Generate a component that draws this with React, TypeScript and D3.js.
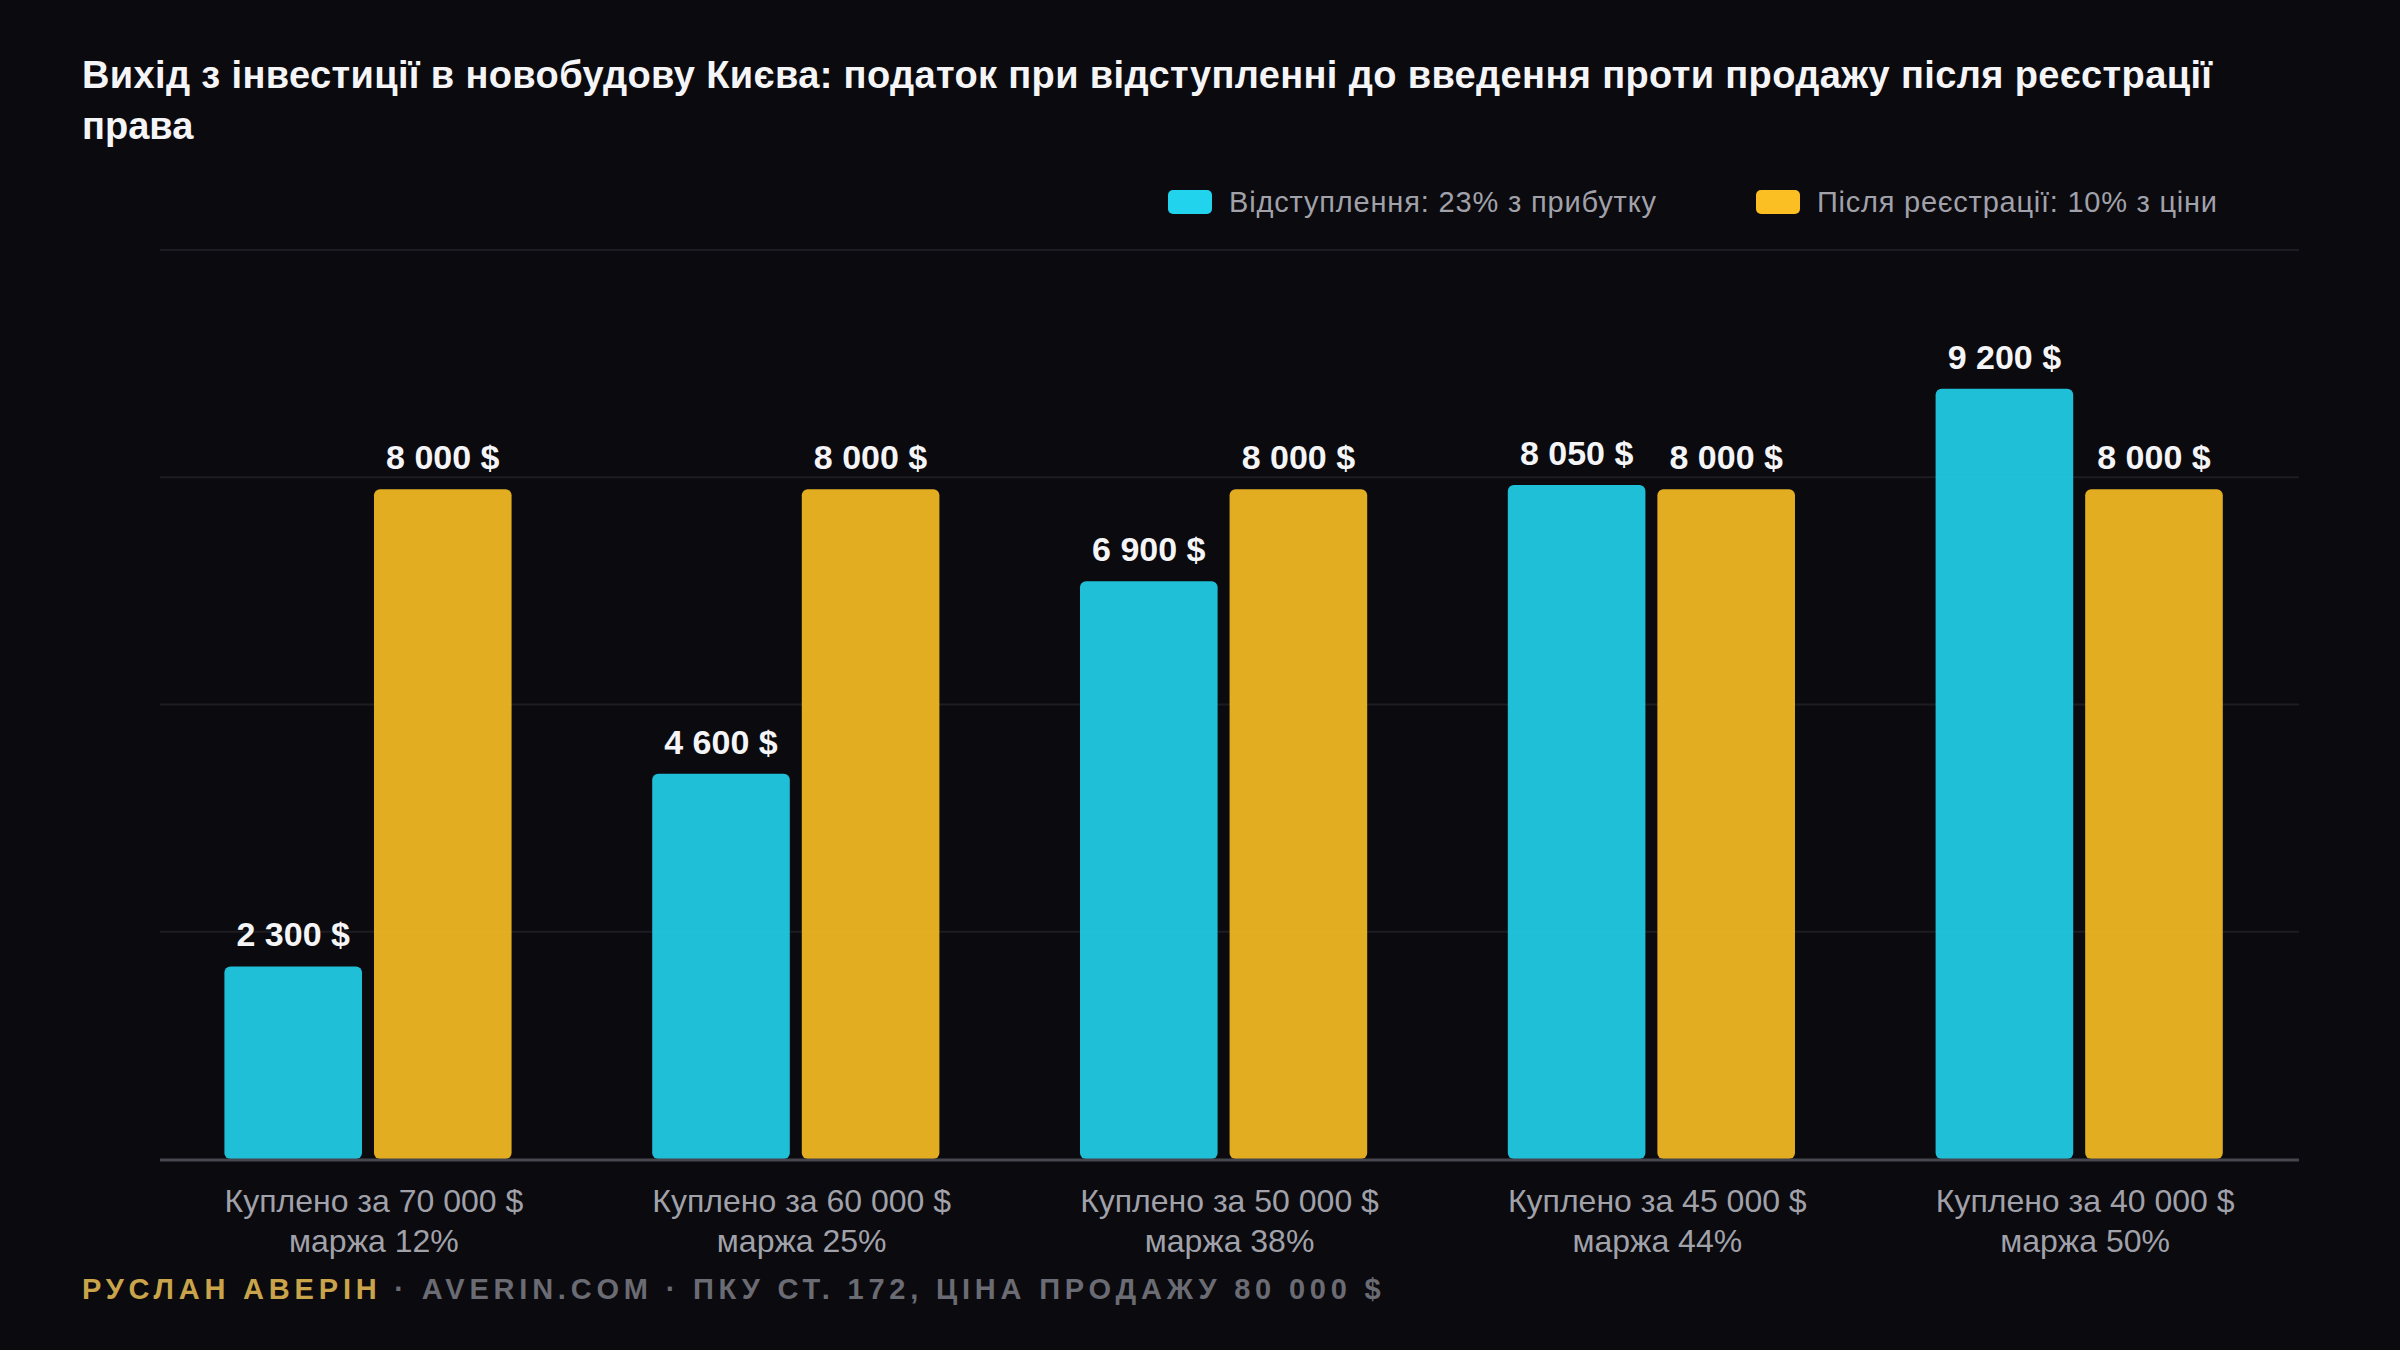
import React from "react";
import * as d3 from "d3";

const categories = [
  "Куплено за 70 000 $",
  "Куплено за 60 000 $",
  "Куплено за 50 000 $",
  "Куплено за 45 000 $",
  "Куплено за 40 000 $",
];
const margins = ["маржа 12%", "маржа 25%", "маржа 38%", "маржа 44%", "маржа 50%"];
const seriesNames = ["Відступлення: 23% з прибутку", "Після реєстрації: 10% з ціни"];
const assignmentTax = [2300, 4600, 6900, 8050, 9200];
const registrationTax = [8000, 8000, 8000, 8000, 8000];
const seriesColors = ["#22d3ee", "#fbbf24"];

const TITLE_1 =
  "Вихід з інвестиції в новобудову Києва: податок при відступленні до введення проти продажу після реєстрації";
const TITLE_2 = "права";

const W = 2400;
const H = 1350;
const BG = "#0a0a0f";
const FONT = "'Liberation Sans', Arial, Helvetica, sans-serif";

const fmt = (v: number) => d3.format(",d")(v).replace(/,/g, " ") + " $";

export default function App() {
  const left = 160;
  const right = 2299;
  const top = 250;
  const bottom = 1159;
  const yMax = 9200 * 1.18;

  const x0 = d3.scaleBand<string>().domain(categories).range([left, right]).padding(0);
  const x1 = d3
    .scaleBand<number>()
    .domain([0, 1])
    .range([0, x0.bandwidth()])
    .paddingInner(0.08)
    .paddingOuter(0.47)
    .align(0.458);
  const y = d3.scaleLinear().domain([0, yMax]).range([bottom, top]);
  const gridVals = d3.range(1, 5).map((i) => (yMax * i) / 4);
  const series = [assignmentTax, registrationTax];
  const legendX = [1168, 1756];
  const legendW = [427, 400];

  return (
    <svg
      width={W}
      height={H}
      viewBox={`0 0 ${W} ${H}`}
      style={{ position: "absolute", left: 0, top: 0, display: "block", background: BG }}
      fontFamily={FONT}
    >
      <rect x={0} y={0} width={W} height={H} fill={BG} />
      <text x={82} y={88} fill="#f5f5f7" fontSize={38} fontWeight={700} textLength={2130} lengthAdjust="spacing">
        {TITLE_1}
      </text>
      <text x={82} y={139} fill="#f5f5f7" fontSize={38} fontWeight={700}>
        {TITLE_2}
      </text>

      {/* legend */}
      {seriesNames.map((name, i) => {
        const lx = legendX[i];
        return (
          <g key={name}>
            <rect x={lx} y={190} width={44} height={24} rx={5} fill={seriesColors[i]} />
            <text
              x={lx + 61}
              y={211.5}
              fill="#a1a1aa"
              fontSize={29}
              textLength={legendW[i]}
              lengthAdjust="spacing"
            >
              {name}
            </text>
          </g>
        );
      })}

      {/* grid */}
      {gridVals.map((v) => (
        <line key={v} x1={left} x2={right} y1={y(v)} y2={y(v)} stroke="#1c1c22" strokeWidth={2} />
      ))}

      {/* bars */}
      {categories.map((c, ci) => (
        <g key={c}>
          {series.map((s, si) => {
            const bx = (x0(c) as number) + (x1(si) as number);
            const bw = x1.bandwidth();
            return (
              <g key={si}>
                <rect
                  x={bx}
                  y={y(s[ci])}
                  width={bw}
                  height={y(0) - y(s[ci])}
                  rx={6}
                  fill={seriesColors[si]}
                  fillOpacity={0.9}
                />
                <text
                  x={bx + bw / 2}
                  y={y(s[ci]) - 20}
                  textAnchor="middle"
                  fill="#f5f5f7"
                  fontSize={34}
                  fontWeight={700}
                >
                  {fmt(s[ci])}
                </text>
              </g>
            );
          })}
          <text
            x={(x0(c) as number) + x0.bandwidth() / 2}
            y={1212}
            textAnchor="middle"
            fill="#a1a1aa"
            fontSize={32}
          >
            {c}
          </text>
          <text
            x={(x0(c) as number) + x0.bandwidth() / 2}
            y={1252}
            textAnchor="middle"
            fill="#a1a1aa"
            fontSize={32}
          >
            {margins[ci]}
          </text>
        </g>
      ))}

      {/* baseline */}
      <line x1={left} x2={right} y1={y(0) + 1} y2={y(0) + 1} stroke="#46464e" strokeWidth={3} />

      {/* footer */}
      <text x={82} y={1299} fontSize={29} fontWeight={700} letterSpacing={4.8}>
        <tspan fill="#c9a44a">РУСЛАН АВЕРІН</tspan>
        <tspan fill="#6b6b73"> · AVERIN.COM · ПКУ СТ. 172, ЦІНА ПРОДАЖУ 80 000 $</tspan>
      </text>
    </svg>
  );
}
